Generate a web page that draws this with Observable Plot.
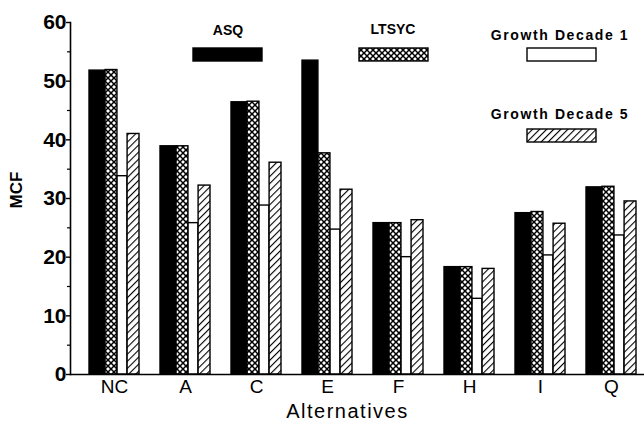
<!DOCTYPE html>
<html>
<head>
<meta charset="utf-8">
<script src="https://cdn.jsdelivr.net/npm/d3@7"></script>
<script src="https://cdn.jsdelivr.net/npm/@observablehq/plot@0.6"></script>
<style>
  html, body { margin: 0; background: #fff; overflow: hidden; }
  #wrap { position: relative; width: 644px; height: 432px; overflow: hidden; font-family: "Liberation Sans", Arial, sans-serif; }
  #wrap > svg { display: block; }
  .lg { position: absolute; font-weight: bold; font-size: 14px; color: #000; white-space: nowrap; transform: translateX(-50%); line-height: 1; }
  .lg.wide { letter-spacing: 1.6px; }
  .sw { position: absolute; display: block; }
  .alt-title { letter-spacing: 1.5px; }
</style>
</head>
<body>
<div id="wrap"></div>
<script>
// MCF by alternative for the four cases
const alternatives = ["NC", "A", "C", "E", "F", "H", "I", "Q"];
const seriesNames = ["ASQ", "LTSYC", "Growth Decade 1", "Growth Decade 5"];
const asq     = [51.8, 38.9, 46.4, 53.5, 25.8, 18.3, 27.5, 31.9];
const ltsyc   = [51.9, 38.9, 46.5, 37.7, 25.8, 18.3, 27.7, 32.0];
const growth1 = [33.8, 25.8, 28.8, 24.7, 20.0, 12.9, 20.3, 23.7];
const growth5 = [41.0, 32.2, 36.1, 31.5, 26.3, 18.0, 25.7, 29.5];
const yTicks = [0, 10, 20, 30, 40, 50, 60];
const yMinor = [5, 15, 25, 35, 45, 55];

const seriesValues = [asq, ltsyc, growth1, growth5];
const fills = ["#000", "url(#xhatch)", "#fff", "url(#dhatch)"];
// share of the group band taken by each bar, left to right
const barShare = [0.32, 0.24, 0.2, 0.24];

const W = 644, H = 432;
const xRange = [70, 655];
const padInner = 0.3, padOuter = 0.235;

// split each group band into the four bars
const band = d3.scaleBand().domain(alternatives).range(xRange)
  .paddingInner(padInner).paddingOuter(padOuter);
const bw = band.bandwidth();
const cum = barShare.map((_, i) => d3.sum(barShare.slice(0, i)));

const rows = seriesValues.map((vals, i) =>
  alternatives.map((a, j) => ({alt: a, value: vals[j], series: seriesNames[i]})));

const font = '"Liberation Sans", Arial, sans-serif';

const chart = Plot.plot({
  width: W,
  height: H,
  marginLeft: 70,
  marginRight: 0,
  marginTop: 22,
  marginBottom: 58,
  style: {fontFamily: font, background: "#fff", color: "#000"},
  x: {domain: alternatives, range: xRange, paddingInner: padInner, paddingOuter: padOuter},
  y: {domain: [0, 60]},
  marks: [
    ...rows.map((data, i) => Plot.barY(data, {
      x: "alt", y: "value",
      fill: fills[i], stroke: "#000", strokeWidth: 1.4,
      insetLeft: cum[i] * bw,
      insetRight: (1 - cum[i] - barShare[i]) * bw
    })),
    Plot.ruleY([0], {stroke: "#000", strokeWidth: 1.6}),
    Plot.frame({anchor: "left", stroke: "#000", strokeWidth: 1.6}),
    Plot.axisY(yTicks, {tickSize: 4, tickPadding: 0, fontSize: 21, fontWeight: "bold", label: null, strokeWidth: 1.4}),
    Plot.axisY(yMinor, {tickSize: 3, tickFormat: () => "", label: null, strokeWidth: 1.2}),
    Plot.axisX({tickSize: 0, tickPadding: 5, fontSize: 19, label: null}),
    Plot.text(["Alternatives"], {frameAnchor: "bottom", dx: -10, dy: 43, fontSize: 20, className: "alt-title"}),
    Plot.text(["MCF"], {frameAnchor: "left", rotate: -90, dx: -54, dy: 10, fontSize: 17, fontWeight: "bold"})
  ]
});

// hatch patterns used by the bar fills
const svg = d3.select(chart);
const defs = svg.insert("defs", ":first-child");
const xh = defs.append("pattern").attr("id", "xhatch").attr("patternUnits", "userSpaceOnUse")
  .attr("width", 6).attr("height", 6);
xh.append("rect").attr("width", 6).attr("height", 6).attr("fill", "#fff");
xh.append("path").attr("d", "M0,0L6,6M6,0L0,6").attr("stroke", "#000").attr("stroke-width", 1.5);
const dh = defs.append("pattern").attr("id", "dhatch").attr("patternUnits", "userSpaceOnUse")
  .attr("width", 5).attr("height", 5).attr("patternTransform", "rotate(45)");
dh.append("rect").attr("width", 5).attr("height", 5).attr("fill", "#fff");
dh.append("line").attr("x1", 0).attr("y1", 0).attr("x2", 0).attr("y2", 5).attr("stroke", "#000").attr("stroke-width", 2.2);

const wrap = document.getElementById("wrap");
wrap.appendChild(chart);

// legend: label above a swatch for each series
const legendItems = [
  {name: seriesNames[0], fill: fills[0], tx: 228, ty: 23, sx: 192, sy: 47, wide: false},
  {name: seriesNames[1], fill: fills[1], tx: 393, ty: 22, sx: 358, sy: 47, wide: false},
  {name: seriesNames[2], fill: fills[2], tx: 560, ty: 28, sx: 526, sy: 47, wide: true},
  {name: seriesNames[3], fill: fills[3], tx: 560, ty: 107, sx: 526, sy: 128, wide: true}
];
for (const it of legendItems) {
  const t = document.createElement("div");
  t.className = it.wide ? "lg wide" : "lg";
  t.style.left = it.tx + "px";
  t.style.top = it.ty + "px";
  t.textContent = it.name;
  wrap.appendChild(t);
  const s = d3.create("svg").attr("class", "sw").attr("width", 72).attr("height", 16)
    .style("left", it.sx + "px").style("top", it.sy + "px");
  s.append("rect").attr("x", 1).attr("y", 1).attr("width", 69).attr("height", 13)
    .attr("fill", it.fill).attr("stroke", "#000").attr("stroke-width", 1.4);
  wrap.appendChild(s.node());
}
</script>
</body>
</html>
